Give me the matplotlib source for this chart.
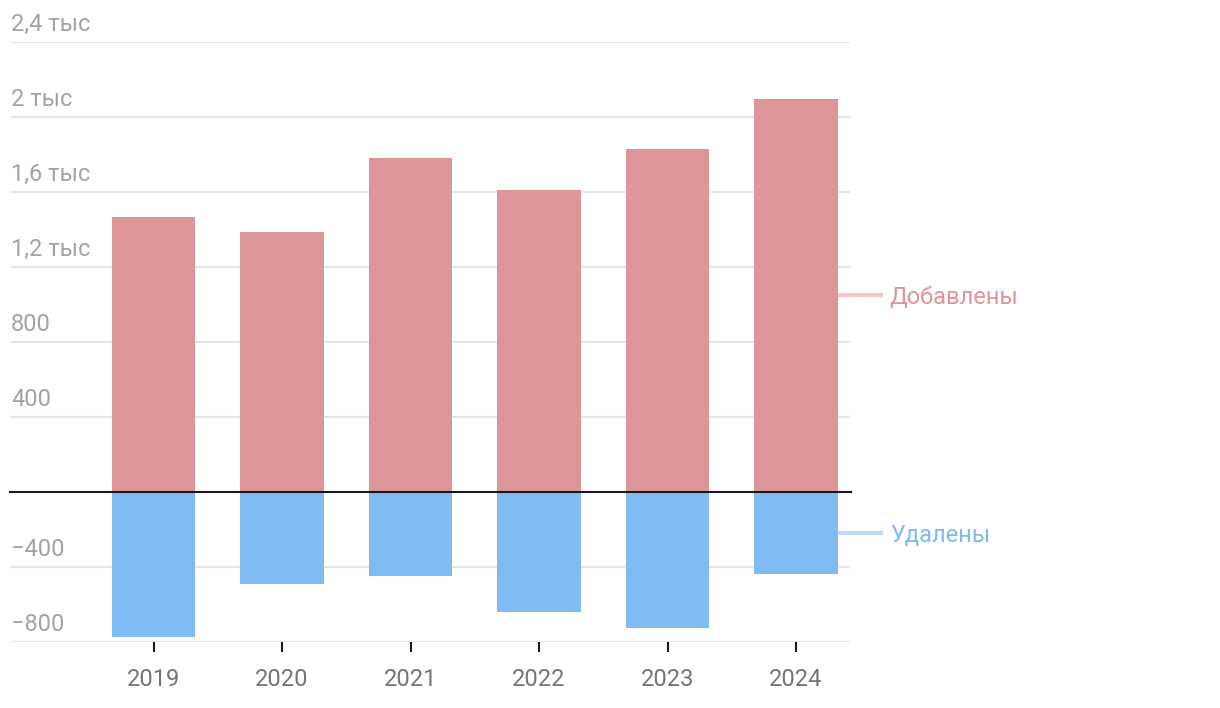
import numpy as np
import matplotlib.pyplot as plt

plt.rcParams['font.family'] = ['Roboto', 'DejaVu Sans']

# data
years = ['2019', '2020', '2021', '2022', '2023', '2024']
added = [1465, 1387, 1780, 1609, 1828, 2094]
removed = [-773, -492, -450, -640, -725, -439]
y_ticks = [-800, -400, 400, 800, 1200, 1600, 2000, 2400]
y_labels = ['−800', '−400', '400', '800', '1,2 тыс', '1,6 тыс', '2 тыс', '2,4 тыс']

pink = '#dd9599'
blue = '#7fbaf2'

fig = plt.figure(figsize=(12.2, 7.08), dpi=100)
ax = fig.add_axes([11 / 1220, 1 - 641.7 / 708, (850 - 11) / 1220, 600 / 708])

x = np.arange(len(years))
ax.bar(x, added, width=0.65, color=pink, zorder=2)
ax.bar(x, removed, width=0.65, color=blue, zorder=2)

ax.set_xlim(-1.109, 5.42)
ax.set_ylim(-800, 2400)

# gridlines and labels above them
for v, lab in zip(y_ticks, y_labels):
    ax.axhline(v, color='#e5e5e5', lw=1.6, zorder=1)
    ax.annotate(lab, xy=(0, v), xycoords=ax.get_yaxis_transform(),
                xytext=(0, 4), textcoords='offset points',
                ha='left', va='bottom', fontsize=17, color='#a3a3a3')

ax.axhline(0, color='#1a1a1a', lw=1.5, zorder=3, xmin=-0.001, xmax=1.001, clip_on=False)

for s in ax.spines.values():
    s.set_visible(False)
ax.set_yticks([])
ax.set_xticks(x)
ax.set_xticklabels(years, fontsize=17, color='#757575')
ax.tick_params(axis='x', length=7, width=1.5, color='#1a1a1a', pad=12)

# series labels at mid-height of the last bar
last = len(years) - 1
for vals, name, lc, tc in [(added, 'Добавлены', '#f2c6c9', pink),
                           (removed, 'Удалены', '#bddbf7', blue)]:
    ym = vals[last] / 2
    ax.plot([last + 0.325, last + 0.68], [ym, ym], color=lc, lw=3,
            clip_on=False, solid_capstyle='butt', zorder=2)
    ax.text(last + 0.73, ym, name, fontsize=17, color=tc,
            va='center_baseline', ha='left')

fig.savefig('out.png', dpi=100)
